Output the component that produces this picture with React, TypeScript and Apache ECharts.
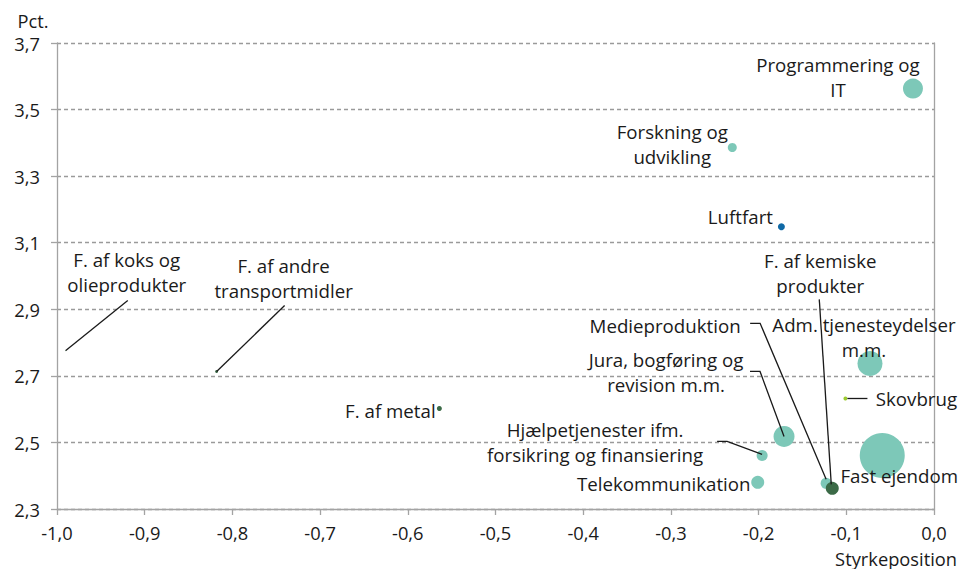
import React, { useEffect, useRef } from 'react';
import * as echarts from 'echarts';

// ---- Data ----
const sectors = [
  'Programmering og IT',
  'Forskning og udvikling',
  'Luftfart',
  'F. af koks og olieprodukter',
  'F. af andre transportmidler',
  'F. af metal',
  'Adm. tjenesteydelser m.m.',
  'Skovbrug',
  'Jura, bogføring og revision m.m.',
  'Hjælpetjenester ifm. forsikring og finansiering',
  'Fast ejendom',
  'Telekommunikation',
  'Medieproduktion',
  'F. af kemiske produkter',
];
const labelTexts = [
  'Programmering og\nIT',
  'Forskning og\nudvikling',
  'Luftfart',
  'F. af koks og\nolieprodukter',
  'F. af andre\ntransportmidler',
  'F. af metal',
  'Adm. tjenesteydelser\nm.m.',
  'Skovbrug',
  'Jura, bogføring og\nrevision m.m.',
  'Hjælpetjenester ifm.\nforsikring og finansiering',
  'Fast ejendom',
  'Telekommunikation',
  'Medieproduktion',
  'F. af kemiske\nprodukter',
];
const styrkeposition = [-0.024, -0.230, -0.174, -0.990, -0.818, -0.564, -0.073, -0.101, -0.171, -0.196, -0.059, -0.201, -0.123, -0.116];
const rente = [3.563, 3.386, 3.148, 2.776, 2.713, 2.602, 2.737, 2.632, 2.518, 2.461, 2.461, 2.380, 2.377, 2.362];
const bobleStoerrelse = [20, 9, 7, 1, 3, 5, 25, 4, 21, 11, 45, 13, 11, 13];
const gruppe = ['service', 'service', 'transport', 'industri', 'industri', 'industri', 'service', 'land', 'service', 'service', 'service', 'service', 'service', 'industri'];

const xMin = -1.0, xMax = 0.0, xStep = 0.1;
const yMin = 2.3, yMax = 3.7, yStep = 0.2;

// ---- Styles / layout (not data) ----
const groupColors: Record<string, string> = {
  service: '#7dc8b8',
  industri: '#3b6a47',
  transport: '#0f69a6',
  land: '#9ccb2f',
};
// label centre offset from the point (px)
const labelOffsets: number[][] = [
  [-75, -12], [-60, -4], [-41, -10], [61, -79], [67, -94], [-49, 2], [-6, -27],
  [71, 0], [-118, -64], [-167, -13], [17, 20], [-94, 1], [-161, -158], [-12, -215],
];
// leader lines relative to the point (px)
const leaderLines: (number[][] | null)[] = [
  null, null, null,
  [[0, 0], [62, -50]],
  [[0, 0], [68, -66]],
  null, null,
  [[2, 0], [22, 0]],
  [[0, 0], [-24, -65], [-34, -65]],
  [[0, -1], [-35, -14], [-45, -14]],
  null, null,
  [[0, -4], [-66, -160], [-76, -160]],
  [[-1, -4], [-13, -189]],
];

const FONT = "'Open Sans', 'Noto Sans', sans-serif";
const LABEL_SIZE = 18.7;
const TICK_SIZE = 18.3;
const fmt = (v: number) => v.toFixed(1).replace('.', ',');

export default function App() {
  const ref = useRef<HTMLDivElement>(null);
  useEffect(() => {
    if (!ref.current) return;
    const chart = echarts.init(ref.current, undefined, { renderer: 'svg' });
    const data = sectors.map((name, i) => ({
      name,
      value: [styrkeposition[i], rente[i]],
      symbolSize: bobleStoerrelse[i],
      itemStyle: { color: groupColors[gruppe[i]], opacity: 1 },
      label: {
        show: true,
        position: 'inside',
        offset: labelOffsets[i],
        formatter: labelTexts[i],
        align: 'center',
        verticalAlign: 'middle',
      },
    }));
    const axisColor = '#a3a3a3';
    const option: any = {
      animation: false,
      backgroundColor: '#ffffff',
      textStyle: { fontFamily: FONT },
      grid: { left: 57, right: 24, top: 43, bottom: 60, containLabel: false },
      xAxis: {
        type: 'value',
        min: xMin,
        max: xMax,
        interval: xStep,
        axisLine: { show: true, onZero: false, lineStyle: { color: axisColor, width: 1.3 } },
        axisTick: { show: true, length: 6, lineStyle: { color: axisColor, width: 1.3 } },
        axisLabel: { formatter: fmt, color: '#1a1a1a', fontSize: TICK_SIZE, fontFamily: FONT, margin: 14 },
        splitLine: { show: false },
      },
      yAxis: [
        {
          type: 'value',
          min: yMin,
          max: yMax,
          interval: yStep,
          axisLine: { show: true, onZero: false, lineStyle: { color: axisColor, width: 1.3 } },
          axisTick: { show: true, length: 6, lineStyle: { color: axisColor, width: 1.3 } },
          axisLabel: { formatter: fmt, color: '#1a1a1a', fontSize: TICK_SIZE, fontFamily: FONT, margin: 17, lineHeight: 20 },
          splitLine: { show: true, lineStyle: { color: '#9a9a9a', type: [4, 3], width: 1.3 } },
        },
        {
          type: 'value',
          min: yMin,
          max: yMax,
          interval: yStep,
          position: 'right',
          axisLine: { show: true, lineStyle: { color: axisColor, width: 1.3 } },
          axisTick: { show: false },
          axisLabel: { show: false },
          splitLine: { show: false },
        },
      ],
      series: [
        {
          type: 'scatter',
          data,
          label: {
            color: '#1a1a1a',
            fontSize: LABEL_SIZE,
            lineHeight: 25,
            fontFamily: FONT,
          },
          emphasis: { disabled: true },
        },
      ],
    };
    chart.setOption(option);

    const graphics: any[] = [
      {
        type: 'text',
        x: 33,
        y: 20,
        style: { text: 'Pct.', fontSize: TICK_SIZE, lineHeight: 18, fontFamily: FONT, fill: '#1a1a1a', align: 'center', verticalAlign: 'middle' },
      },
      {
        type: 'text',
        x: 957,
        y: 558,
        style: { text: 'Styrkeposition', fontSize: TICK_SIZE, fontFamily: FONT, fill: '#1a1a1a', align: 'right', verticalAlign: 'middle' },
      },
    ];
    sectors.forEach((_, i) => {
      const path = leaderLines[i];
      if (!path) return;
      const p = chart.convertToPixel({ xAxisIndex: 0, yAxisIndex: 0 }, [styrkeposition[i], rente[i]]) as number[];
      graphics.push({
        type: 'polyline',
        z: 100,
        shape: { points: path.map(([dx, dy]) => [p[0] + dx, p[1] + dy]) },
        style: { stroke: '#1a1a1a', lineWidth: 1.3, fill: 'none' },
        silent: true,
      });
    });
    chart.setOption({ graphic: graphics });

    return () => chart.dispose();
  }, []);
  return <div ref={ref} style={{ width: 958, height: 569, position: 'absolute', left: 0, top: 0 }} />;
}
